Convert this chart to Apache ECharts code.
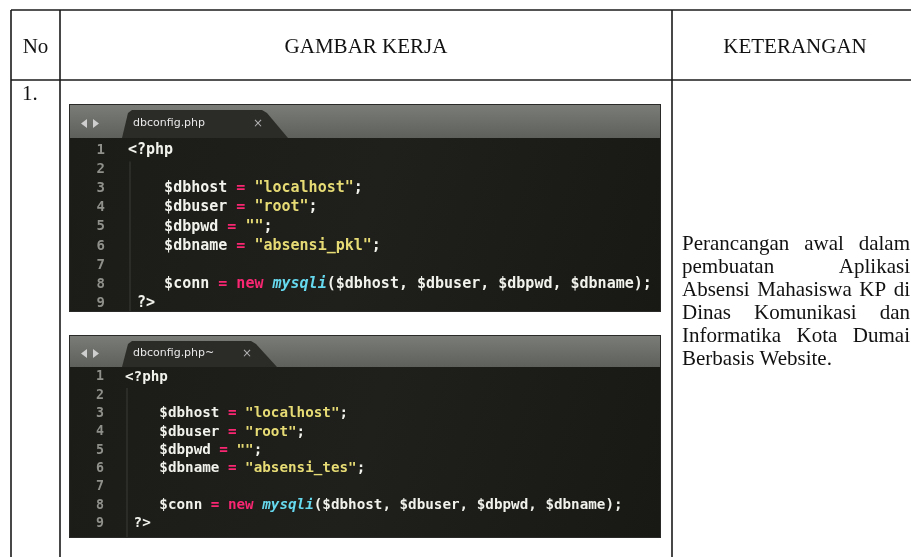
<!DOCTYPE html>
<html>
<head>
<meta charset="utf-8">
<script src="https://cdn.jsdelivr.net/npm/echarts@6/dist/echarts.min.js"></script>
<style>
html,body{margin:0;padding:0;background:#fff;}
#chart{width:911px;height:557px;}
</style>
</head>
<body>
<div id="chart"></div>
<script>
// ---- content ----
const headers = ['No', 'GAMBAR KERJA', 'KETERANGAN'];
const rowNumbers = ['1.'];
const tabNames = ['dbconfig.php', 'dbconfig.php~'];
const codeA = [
  '<?php',
  '',
  '    $dbhost = "localhost";',
  '    $dbuser = "root";',
  '    $dbpwd = "";',
  '    $dbname = "absensi_pkl";',
  '',
  '    $conn = new mysqli($dbhost, $dbuser, $dbpwd, $dbname);',
  ' ?>'
];
const codeB = [
  '<?php',
  '',
  '    $dbhost = "localhost";',
  '    $dbuser = "root";',
  '    $dbpwd = "";',
  '    $dbname = "absensi_tes";',
  '',
  '    $conn = new mysqli($dbhost, $dbuser, $dbpwd, $dbname);',
  ' ?>'
];
const description = [
  'Perancangan awal dalam',
  'pembuatan Aplikasi',
  'Absensi Mahasiswa KP di',
  'Dinas Komunikasi dan',
  'Informatika Kota Dumai',
  'Berbasis Website.'
];

// ---- helpers ----
const SERIF = '"Liberation Serif", "Times New Roman", serif';
const MONO = '"DejaVu Sans Mono", monospace';
const SANS = '"DejaVu Sans", "Noto Sans", sans-serif';

const measureCtx = document.createElement('canvas').getContext('2d');
function textWidth(str, font) { measureCtx.font = font; return measureCtx.measureText(str).width; }

function highlight(line) {
  const re = /("[^"]*")|(\bnew\b)|(\bmysqli\b)|(=)/g;
  let out = '', last = 0, m;
  while ((m = re.exec(line))) {
    if (m.index > last) out += '{t|' + line.slice(last, m.index) + '}';
    const st = m[1] ? 's' : m[3] ? 'f' : 'k';
    out += '{' + st + '|' + m[0] + '}';
    last = re.lastIndex;
  }
  if (last < line.length) out += '{t|' + line.slice(last) + '}';
  return out;
}

function richStyles(fs) {
  const base = { fontFamily: MONO, fontSize: fs, fontWeight: 'bold', lineHeight: fs + 4 };
  return {
    t: Object.assign({ fill: '#f2f2ec' }, base),
    s: Object.assign({ fill: '#e6db74' }, base),
    k: Object.assign({ fill: '#f92672' }, base),
    f: Object.assign({ fill: '#66d9ef', fontStyle: 'italic' }, base)
  };
}

function editor(box, code, tabName) {
  const els = [];
  const { x, y, w, h, barH, tabL, tabR, fs, lineY0, lineStep, codeX, numX } = box;
  els.push({ type: 'rect', shape: { x: x - 1, y: y - 1, width: w + 2, height: h + 2 }, style: { fill: '#2a2a28' }, silent: true });
  els.push({ type: 'rect', shape: { x: x, y: y, width: w, height: barH },
    style: { fill: new echarts.graphic.LinearGradient(0, 0, 0, 1, [
      { offset: 0, color: '#7a7c77' }, { offset: 1, color: '#5e605b' }]) }, silent: true });
  els.push({ type: 'rect', shape: { x: x, y: y + barH, width: w, height: h - barH },
    style: { fill: new echarts.graphic.LinearGradient(0, 0, 1, 1, [
      { offset: 0, color: '#1b1c18' }, { offset: 0.5, color: '#1f201c' }, { offset: 1, color: '#181915' }]) }, silent: true });
  const ty = y + 5, by = y + barH;
  els.push({ type: 'polygon', shape: { points: [[tabL, by], [tabL + 6, ty + 3], [tabL + 10, ty], [tabR - 26, ty], [tabR - 21, ty + 3], [tabR, by]] },
    style: { fill: '#2b2c28' }, silent: true });
  const ay = y + barH / 2 + 2;
  els.push({ type: 'polygon', shape: { points: [[x + 11, ay], [x + 17, ay - 4.5], [x + 17, ay + 4.5]] }, style: { fill: '#cfcfcf' }, silent: true });
  els.push({ type: 'polygon', shape: { points: [[x + 29, ay], [x + 23, ay - 4.5], [x + 23, ay + 4.5]] }, style: { fill: '#cfcfcf' }, silent: true });
  els.push({ type: 'text', x: tabL + 11, y: ay, style: { text: tabName, fill: '#e8e8e8', font: '11px ' + SANS, verticalAlign: 'middle', align: 'left' }, silent: true });
  els.push({ type: 'text', x: tabR - 30, y: ay, style: { text: '×', fill: '#b0b0b0', font: '12px ' + SANS, verticalAlign: 'middle', align: 'center' }, silent: true });
  els.push({ type: 'line', shape: { x1: codeX + 2, y1: lineY0 + lineStep * 0.6, x2: codeX + 2, y2: y + h }, style: { stroke: '#3a3b36', lineWidth: 1 }, silent: true });
  code.forEach((ln, i) => {
    const ly = lineY0 + i * lineStep;
    els.push({ type: 'text', x: numX, y: ly, style: { text: String(i + 1), fill: '#8f908a', font: 'bold ' + (fs - 1) + 'px ' + MONO, align: 'right', verticalAlign: 'middle' }, silent: true });
    if (ln.length) {
      els.push({ type: 'text', x: codeX, y: ly, style: { text: highlight(ln), rich: richStyles(fs), align: 'left', verticalAlign: 'middle' }, silent: true });
    }
  });
  return els;
}

// ---- build ----
const chart = echarts.init(document.getElementById('chart'), null, { renderer: 'canvas' });
const G = [];
const LINE = { stroke: '#1a1a1a', lineWidth: 1.6 };
const L = 11, T = 10, C1 = 60, C2 = 672, R = 920, HB = 80, BOT = 560;
[[L, T, R, T], [L, HB, R, HB], [L, T, L, BOT], [C1, T, C1, BOT], [C2, T, C2, BOT]].forEach(p => {
  G.push({ type: 'line', shape: { x1: p[0], y1: p[1], x2: p[2], y2: p[3] }, style: LINE, silent: true });
});
const headFont = '21px ' + SERIF;
G.push({ type: 'text', x: (L + C1) / 2, y: 47, style: { text: headers[0], font: headFont, fill: '#111', align: 'center', verticalAlign: 'middle' } });
G.push({ type: 'text', x: (C1 + C2) / 2, y: 47, style: { text: headers[1], font: headFont, fill: '#111', align: 'center', verticalAlign: 'middle' } });
G.push({ type: 'text', x: 795, y: 47, style: { text: headers[2], font: headFont, fill: '#111', align: 'center', verticalAlign: 'middle' } });
G.push({ type: 'text', x: 22, y: 94, style: { text: rowNumbers[0], font: headFont, fill: '#111', align: 'left', verticalAlign: 'middle' } });

G.push(...editor({ x: 70, y: 105, w: 590, h: 206, barH: 33, tabL: 122, tabR: 288, fs: 15, lineY0: 150, lineStep: 19.2, codeX: 128, numX: 105 }, codeA, tabNames[0]));
G.push(...editor({ x: 70, y: 336, w: 590, h: 201, barH: 31, tabL: 122, tabR: 277, fs: 14.25, lineY0: 377, lineStep: 18.3, codeX: 125, numX: 104 }, codeB, tabNames[1]));

const dFont = '21px ' + SERIF;
const DX = 682, DW = 228, DY0 = 244, DSTEP = 23;
description.forEach((ln, i) => {
  const words = ln.split(' ');
  const y = DY0 + i * DSTEP;
  const last = i === description.length - 1;
  const widths = words.map(wd => textWidth(wd, dFont));
  const total = widths.reduce((a, b) => a + b, 0);
  const gap = (last || words.length < 2) ? textWidth(' ', dFont) : (DW - total) / (words.length - 1);
  let x = DX;
  words.forEach((wd, j) => {
    G.push({ type: 'text', x: x, y: y, style: { text: wd, font: dFont, fill: '#111', align: 'left', verticalAlign: 'middle' } });
    x += widths[j] + gap;
  });
});

chart.setOption({ animation: false, graphic: { elements: G } });
</script>
</body>
</html>
